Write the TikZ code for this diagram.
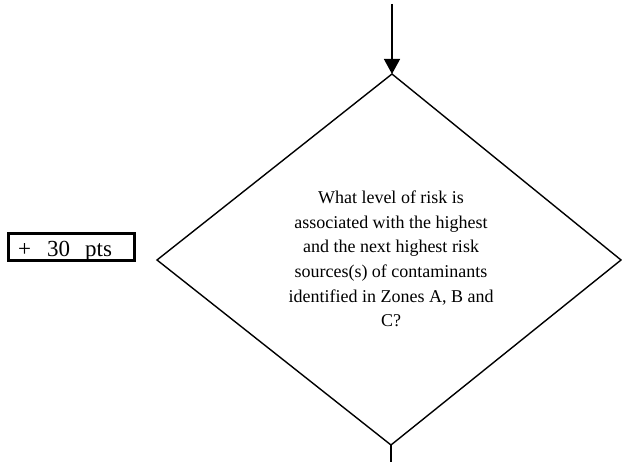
\documentclass[tikz,border=0pt]{standalone}
\usepackage{fontspec}
\setmainfont{Liberation Serif}
\usetikzlibrary{arrows.meta}
\begin{document}
\begin{tikzpicture}[x=1pt,y=-1pt,
  line/.style={line width=1.4pt},
  qtext/.style={font=\fontsize{18}{24.6}\selectfont, align=center, inner sep=0pt},
  ptsbox/.style={draw, line width=2.6pt, minimum width=126.5, minimum height=27.5, inner sep=0pt},
  ptstext/.style={font=\fontsize{23}{25}\selectfont, inner sep=0pt}]
\useasboundingbox (0,0) rectangle (622,462);
\coordinate (top) at (392,74);
\coordinate (left) at (157,260);
\coordinate (right) at (621,260);
\coordinate (bot) at (391,445);
\coordinate (in) at (392,4);
\coordinate (out) at (391,462);
\draw[line] (top) -- (right) -- (bot) -- (left) -- cycle;
\draw[line, -{Triangle[length=15pt,width=16pt]}] (in) -- (top);
\draw[line] (bot) -- (out);
\node[qtext] (q) at (391,259) {What level of risk is\\associated with the highest\\and the next highest risk\\sources(s) of contaminants\\identified in Zones A, B and\\C?};
\node[ptsbox] (pts) at (71.5,247) {};
\node[ptstext, anchor=base west] (ptslabel) at (18,256.5) {+\hspace{16pt}30\hspace{15pt}pts};
\end{tikzpicture}
\end{document}
